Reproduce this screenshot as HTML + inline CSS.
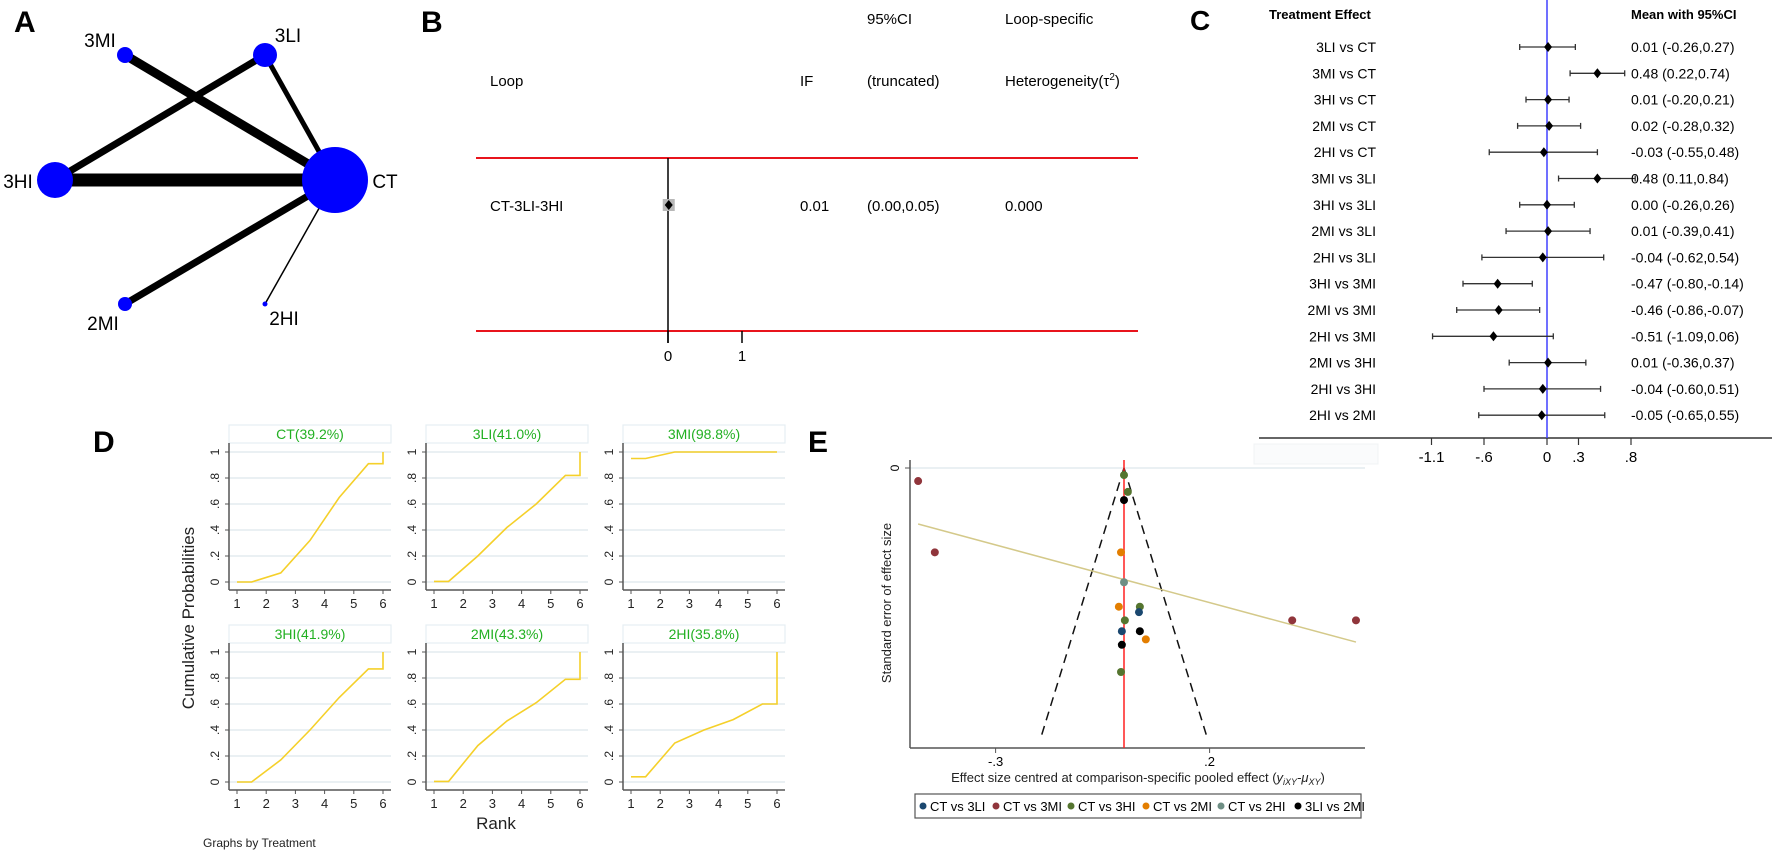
<!DOCTYPE html>
<html><head><meta charset="utf-8"><style>
html,body{margin:0;padding:0;background:#fff}
svg{display:block;font-family:"Liberation Sans",Arial,sans-serif}
</style></head><body>
<svg id="fig" width="1772" height="852" viewBox="0 0 1772 852" xmlns="http://www.w3.org/2000/svg">
<rect width="1772" height="852" fill="#fff"/>
<!-- Panel labels -->
<text x="14" y="32" font-size="30" font-weight="bold">A</text>
<text x="421" y="32" font-size="30" font-weight="bold">B</text>
<text x="1190" y="30" font-size="28" font-weight="bold">C</text>
<text x="93" y="452" font-size="30" font-weight="bold">D</text>
<text x="808" y="452" font-size="30" font-weight="bold">E</text>

<g id="panelA"></g>
<g id="panelB">
  <text x="867" y="24" font-size="15">95%CI</text>
  <text x="1005" y="24" font-size="15">Loop-specific</text>
  <text x="490" y="86" font-size="15">Loop</text>
  <text x="800" y="86" font-size="15">IF</text>
  <text x="867" y="86" font-size="15">(truncated)</text>
  <text x="1005" y="86" font-size="15">Heterogeneity(τ<tspan dy="-6" font-size="10">2</tspan><tspan dy="6">)</tspan></text>
  <line x1="476" y1="158" x2="1138" y2="158" stroke="#e8141c" stroke-width="2"/>
  <line x1="476" y1="331" x2="1138" y2="331" stroke="#e8141c" stroke-width="2"/>
  <text x="490" y="211" font-size="15">CT-3LI-3HI</text>
  <text x="800" y="211" font-size="15">0.01</text>
  <text x="867" y="211" font-size="15">(0.00,0.05)</text>
  <text x="1005" y="211" font-size="15">0.000</text>
</g>
<g id="panelC">
  <text x="1269" y="19" font-size="13" font-weight="bold">Treatment Effect</text>
  <text x="1631" y="19" font-size="13" font-weight="bold">Mean with 95%CI</text>
  <rect x="1254" y="444" width="124" height="20" fill="#fafbfc" stroke="#f0f3f5"/>
</g>
<g id="panelD">
  <text transform="translate(194,618) rotate(-90)" text-anchor="middle" font-size="17" fill="#222">Cumulative Probabilities</text>
  <text x="496" y="829" text-anchor="middle" font-size="17" fill="#222">Rank</text>
  <text x="203" y="847" font-size="12" fill="#222">Graphs by Treatment</text>
</g>
<g id="panelE">
  <text transform="translate(891,603) rotate(-90)" text-anchor="middle" font-size="13" fill="#222">Standard error of effect size</text>
  <text x="1138" y="782" text-anchor="middle" font-size="13" fill="#222">Effect size centred at comparison-specific pooled effect (<tspan font-style="italic">y<tspan font-size="9" dy="3">iXY</tspan><tspan dy="-3">-μ</tspan><tspan font-size="9" dy="3">XY</tspan></tspan><tspan dy="-3">)</tspan></text>
</g>
<script>
const NS="http://www.w3.org/2000/svg";
function mk(tag,attrs,parent){const e=document.createElementNS(NS,tag);for(const k in attrs)e.setAttribute(k,attrs[k]);parent.appendChild(e);return e;}

/* ---------- Panel A: network ---------- */
const netNodes=["CT","3LI","3MI","3HI","2MI","2HI"];
const netSizes=[33,12,8,18,7,2.5];
const netEdgeFrom=["3HI","3MI","3LI","3LI","2MI","2HI"];
const netEdgeTo=["CT","CT","3HI","CT","CT","CT"];
const netEdgeW=[13,9,7,5,7,1.5];
const nodePos={"CT":[335,180],"3LI":[265,55],"3MI":[125,55],"3HI":[55,180],"2MI":[125,304],"2HI":[265,304]};
const labelPos={"CT":[385,188,"middle"],"3LI":[288,42,"middle"],"3MI":[100,47,"middle"],"3HI":[18,188,"middle"],"2MI":[103,330,"middle"],"2HI":[284,325,"middle"]};
const gA=document.getElementById('panelA');
netEdgeFrom.forEach((f,i)=>{const a=nodePos[f],b=nodePos[netEdgeTo[i]];
  const l=mk('line',{x1:a[0],y1:a[1],x2:b[0],y2:b[1],stroke:'#000','stroke-width':netEdgeW[i]},gA);
  
  });
netNodes.forEach((n,i)=>{const p=nodePos[n];
  const c=mk('circle',{cx:p[0],cy:p[1],r:netSizes[i],fill:'#0000ff'},gA);
  
  
  const lp=labelPos[n];
  const t=mk('text',{x:lp[0],y:lp[1],'font-size':19,'text-anchor':lp[2]},gA);t.textContent=n;
  
  });

/* ---------- Panel B: loop inconsistency ---------- */
const loopIF=[0.01];
const loopLo=[0.00];
const loopHi=[0.05];
const bTicks=[0,1];
const bx=v=>668+v*74;
const gB=document.getElementById('panelB');
const bz=mk('line',{x1:bx(0),y1:158,x2:bx(0),y2:343,stroke:'#000','stroke-width':1.5},gB);


bTicks.forEach(t=>{const tl=mk('line',{x1:bx(t),y1:331,x2:bx(t),y2:343,stroke:'#000','stroke-width':1.5},gB);
  
  
  const tx=mk('text',{x:bx(t),y:361,'font-size':15,'text-anchor':'middle'},gB);tx.textContent=String(t);
  
  });
loopIF.forEach((v,i)=>{const y=205;
  const sq=mk('rect',{x:bx(v)-6,y:y-6,width:12,height:12,fill:'#b8b8b8'},gB);
  
  
  const ci=mk('line',{x1:bx(loopLo[i]),y1:y,x2:bx(loopHi[i]),y2:y,stroke:'#000','stroke-width':1.5},gB);
  
  
  const d=mk('path',{d:`M${bx(v)} ${y-5}L${bx(v)+4} ${y}L${bx(v)} ${y+5}L${bx(v)-4} ${y}Z`,fill:'#000'},gB);
  
  });

/* ---------- Panel C: forest ---------- */
const cLabels=["3LI vs CT","3MI vs CT","3HI vs CT","2MI vs CT","2HI vs CT","3MI vs 3LI","3HI vs 3LI","2MI vs 3LI","2HI vs 3LI","3HI vs 3MI","2MI vs 3MI","2HI vs 3MI","2MI vs 3HI","2HI vs 3HI","2HI vs 2MI"];
const cMean=[0.01,0.48,0.01,0.02,-0.03,0.48,0.00,0.01,-0.04,-0.47,-0.46,-0.51,0.01,-0.04,-0.05];
const cLo=[-0.26,0.22,-0.20,-0.28,-0.55,0.11,-0.26,-0.39,-0.62,-0.80,-0.86,-1.09,-0.36,-0.60,-0.65];
const cHi=[0.27,0.74,0.21,0.32,0.48,0.84,0.26,0.41,0.54,-0.14,-0.07,0.06,0.37,0.51,0.55];
const cTicks=[-1.1,-0.6,0,0.3,0.8];
const cTickLabels=["-1.1","-.6","0",".3",".8"];
const cx=v=>1547+v*105;
const cy=i=>47+i*26.3;
const gC=document.getElementById('panelC');
const ax=mk('line',{x1:1259,y1:438,x2:1772,y2:438,stroke:'#333','stroke-width':1.5},gC);


const bl=mk('line',{x1:cx(0),y1:0,x2:cx(0),y2:438,stroke:'#4040ff','stroke-width':1.5},gC);


cTicks.forEach((t,i)=>{const tl=mk('line',{x1:cx(t),y1:438,x2:cx(t),y2:445,stroke:'#333','stroke-width':1.2},gC);
  
  
  const tx=mk('text',{x:cx(t),y:462,'font-size':15,'text-anchor':'middle'},gC);tx.textContent=cTickLabels[i];
  
  });
cLabels.forEach((lab,i)=>{const y=cy(i);
  const t=mk('text',{x:1376,y:y+5,'font-size':14,'text-anchor':'end'},gC);t.textContent=lab;
  
  
  const l=mk('line',{x1:cx(cLo[i]),y1:y,x2:cx(cHi[i]),y2:y,stroke:'#333','stroke-width':1.3},gC);
  
  
  [cLo[i],cHi[i]].forEach(v=>{const c=mk('line',{x1:cx(v),y1:y-3,x2:cx(v),y2:y+3,stroke:'#333','stroke-width':1.3},gC);
    
    });
  const m=cx(cMean[i]);
  const d=mk('path',{d:`M${m} ${y-5}L${m+4} ${y}L${m} ${y+5}L${m-4} ${y}Z`,fill:'#000'},gC);
  
  
  const f=v=>(v<0?'-':'')+Math.abs(v).toFixed(2);
  const vt=mk('text',{x:1631,y:y+5,'font-size':14},gC);
  vt.textContent=f(cMean[i])+' ('+f(cLo[i])+','+f(cHi[i])+')';
  
  });

/* ---------- Panel D: cumulative rank probabilities ---------- */
const dTitles=["CT(39.2%)","3LI(41.0%)","3MI(98.8%)","3HI(41.9%)","2MI(43.3%)","2HI(35.8%)"];
const dRanks=[1,1.5,2.5,3.5,4.5,5.5,6,6];
const dCT=[0,0,0.07,0.32,0.65,0.91,0.91,1];
const d3LI=[0.005,0.005,0.2,0.42,0.6,0.82,0.82,1];
const d3MI=[0.95,0.95,1,1,1,1,1,1];
const d3HI=[0,0,0.17,0.4,0.65,0.87,0.87,1];
const d2MI=[0.005,0.005,0.28,0.47,0.61,0.79,0.79,1];
const d2HI=[0.04,0.04,0.3,0.4,0.48,0.6,0.6,1];
const dSeries=[dCT,d3LI,d3MI,d3HI,d2MI,d2HI];
const dYTicks=[0,0.2,0.4,0.6,0.8,1];
const dYTickLabels=["0",".2",".4",".6",".8","1"];
const dXTicks=[1,2,3,4,5,6];
const gD=document.getElementById('panelD');
dSeries.forEach((vals,k)=>{
  const col=k%3,row=Math.floor(k/3);
  const ax0=229+col*197, top=425+row*200;
  const y0=top+157, y1=top+27, xAx=top+165;
  const px=v=>ax0+8+(v-1)*29.2;
  const py=v=>y0+(y1-y0)*v;
  const g=mk('g',{},gD);
  
  
  const tb=mk('rect',{x:ax0,y:top,width:162,height:18,fill:'#fff',stroke:'#e6eef2','stroke-width':1.2},g);
  
  
  const tt=mk('text',{x:ax0+81,y:top+14,'font-size':14,'text-anchor':'middle',fill:'#22b022'},g);tt.textContent=dTitles[k];
  
  
  dYTicks.forEach((t,i)=>{
    const gl=mk('line',{x1:ax0,y1:py(t),x2:ax0+162,y2:py(t),stroke:'#eaf0f3','stroke-width':2},g);
    
    
    const tk=mk('line',{x1:ax0-4,y1:py(t),x2:ax0,y2:py(t),stroke:'#555','stroke-width':1},g);
    
    
    const tl=mk('text',{transform:`translate(${ax0-10},${py(t)}) rotate(-90)`,'font-size':12,'text-anchor':'middle',fill:'#222'},g);tl.textContent=dYTickLabels[i];
    
    });
  const ya=mk('line',{x1:ax0,y1:top+18,x2:ax0,y2:xAx,stroke:'#555','stroke-width':1.5},g);
  
  
  const xa=mk('line',{x1:ax0,y1:xAx,x2:ax0+162,y2:xAx,stroke:'#555','stroke-width':1.5},g);
  
  
  dXTicks.forEach(t=>{
    const tk=mk('line',{x1:px(t),y1:xAx,x2:px(t),y2:xAx+4,stroke:'#555','stroke-width':1},g);
    
    
    const tl=mk('text',{x:px(t),y:xAx+18,'font-size':13,'text-anchor':'middle',fill:'#222'},g);tl.textContent=String(t);
    
    });
  const pts=dRanks.map((r,i)=>px(r).toFixed(1)+','+py(vals[i]).toFixed(1)).join(' ');
  const pl=mk('polyline',{points:pts,fill:'none',stroke:'#f5d02a','stroke-width':1.6},g);
  
  
});

/* ---------- Panel E: comparison-adjusted funnel ---------- */
const eGroups=["CT vs 3LI","CT vs 3MI","CT vs 3HI","CT vs 2MI","CT vs 2HI","3LI vs 2MI"];
const eColors=["#1a476f","#90353b","#55752f","#e37e00","#6e8e84","#000000"];
const eEffect=[-0.481,-0.442,0.393,0.542,0.000,0.009,0.000,-0.007,0.000,-0.012,0.037,0.035,0.002,-0.005,0.037,0.051,-0.005,-0.007];
const eSE=[0.0048,0.031,0.056,0.056,0.0026,0.0088,0.0118,0.031,0.042,0.051,0.051,0.053,0.056,0.060,0.060,0.063,0.065,0.075];
const eGroupIdx=[1,1,1,1,2,2,5,3,4,3,2,0,2,0,5,3,5,2];
const eRegX=[-0.481,0.542];
const eRegY=[0.0206,0.064];
const eXTicks=[-0.3,0.2];
const eXTickLabels=["-.3",".2"];
const ex=v=>1124+v*428;
const ey=s=>468+s*2720;
const gE=document.getElementById('panelE');
const grid=mk('line',{x1:910,y1:ey(0),x2:1365,y2:ey(0),stroke:'#eaf0f3','stroke-width':2},gE);


const eya=mk('line',{x1:910,y1:460,x2:910,y2:748,stroke:'#555','stroke-width':1.5},gE);


const exa=mk('line',{x1:910,y1:748,x2:1365,y2:748,stroke:'#555','stroke-width':1.5},gE);


const y0t=mk('line',{x1:905,y1:ey(0),x2:910,y2:ey(0),stroke:'#555'},gE);


const y0l=mk('text',{transform:`translate(${899},${ey(0)}) rotate(-90)`,'font-size':12,'text-anchor':'middle'},gE);y0l.textContent='0';


eXTicks.forEach((t,i)=>{const tk=mk('line',{x1:ex(t),y1:748,x2:ex(t),y2:753,stroke:'#555'},gE);
  
  
  const tl=mk('text',{x:ex(t),y:766,'font-size':13,'text-anchor':'middle'},gE);tl.textContent=eXTickLabels[i];
  
  });
const seMax=0.1;
[-1,1].forEach(sg=>{const f=mk('line',{x1:ex(0),y1:ey(0),x2:ex(sg*1.96*seMax),y2:ey(seMax),stroke:'#111','stroke-width':1.5,'stroke-dasharray':'9 6'},gE);
  
  });
const rl=mk('line',{x1:ex(0),y1:460,x2:ex(0),y2:748,stroke:'#ff2020','stroke-width':1.5},gE);


const reg=mk('line',{x1:ex(eRegX[0]),y1:ey(eRegY[0]),x2:ex(eRegX[1]),y2:ey(eRegY[1]),stroke:'#d4c98a','stroke-width':1.5},gE);


eEffect.forEach((v,i)=>{const c=mk('circle',{cx:ex(v),cy:ey(eSE[i]),r:4,fill:eColors[eGroupIdx[i]]},gE);
  
  });
const lg=mk('g',{},gE);


const lb=mk('rect',{x:915,y:794,width:446,height:24,fill:'#fff',stroke:'#555','stroke-width':1.2},lg);


const legX=[923,996,1071,1146,1221,1298];
eGroups.forEach((g,i)=>{const c=mk('circle',{cx:legX[i],cy:806,r:3.5,fill:eColors[i]},lg);
  
  
  const t=mk('text',{x:legX[i]+7,y:811,'font-size':13},lg);t.textContent=g;
  
  });
</script>
</svg>
</body></html>
